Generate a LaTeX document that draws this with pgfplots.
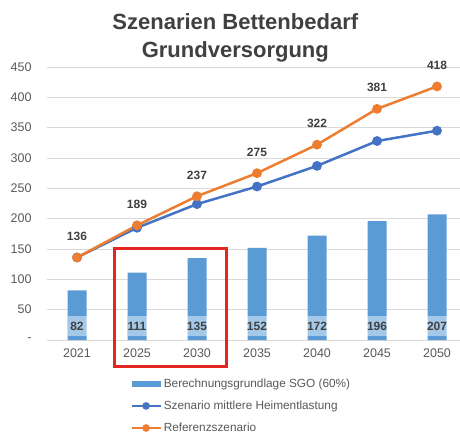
\documentclass[border=0pt]{standalone}
\usepackage{fontspec}
\setmainfont{Liberation Sans}
\usepackage{pgfplots}
\usepackage{pgfplotstable}
\pgfplotsset{compat=1.18}
\definecolor{barblue}{HTML}{5B9BD5}
\definecolor{lineblue}{HTML}{4472C4}
\definecolor{lineorange}{HTML}{ED7D31}
\definecolor{labgray}{HTML}{404040}
\definecolor{tickgray}{HTML}{595959}
\definecolor{gridgray}{HTML}{D9D9D9}
\definecolor{boxred}{HTML}{E3261F}
\pgfplotsset{
  linelegend/.style={legend image code/.code={\draw[##1, line width=2.5pt, mark size=2.5pt, mark repeat=2, mark phase=2]
    plot coordinates {(0pt,0pt) (14.5pt,0pt) (29pt,0pt)};}},
  barlegend/.style={legend image code/.code={\fill[barblue] (0pt,-3pt) rectangle (29pt,3pt);}},
}
\pgfplotstableread{
x year sgo mittel ref
0 2021 82 136 136
1 2025 111 185 189
2 2030 135 224 237
3 2035 152 253 275
4 2040 172 287 322
5 2045 196 328 381
6 2050 207 345 418
}\datatable
\begin{document}
\begin{tikzpicture}
\useasboundingbox (0,0) rectangle (460pt,434pt);
\begin{axis}[
  at={(47pt,94pt)}, anchor=south west,
  scale only axis, width=413pt, height=273pt,
  xmin=-0.5, xmax=6.383, ymin=0, ymax=450,
  clip=false,
  axis line style={draw=none},
  tick style={draw=none},
  ymajorgrids, grid style={color=gridgray, line width=0.8pt},
  ytick={0,50,...,450},
  yticklabels={-\hspace{6pt},50,100,150,200,250,300,350,400,450},
  xtick={0,...,6},
  xticklabels={2021,2025,2030,2035,2040,2045,2050},
  /pgf/number format/assume math mode=true,
  ticklabel style={font=\fontsize{12.5}{15}\selectfont, text=tickgray},
  yticklabel style={xshift=-12pt},
  xticklabel style={yshift=-5pt},
  title={Szenarien Bettenbedarf\\Grundversorgung},
  title style={at={(0.456,1)}, anchor=south, align=center, yshift=-5pt,
    font=\fontsize{22}{28}\bfseries, text=labgray},
  legend style={at={(0.194,-0.127)}, anchor=north west, draw=none,
    font=\fontsize{11.8}{14}\selectfont, text=tickgray, row sep=8pt,
    cells={anchor=west}},
  legend cell align=left,
]
\addplot[ybar, bar width=19pt, fill=barblue, draw=none, barlegend]
  table[x=x, y=sgo] {\datatable};
\addlegendentry{Berechnungsgrundlage SGO (60\%)}
\addplot[draw=none, mark=none, forget plot,
  nodes near coords, point meta=explicit symbolic,
  every node near coord/.append style={anchor=center, fill=white, fill opacity=0.45,
    text opacity=1, minimum width=19pt, minimum height=20pt, inner sep=0pt,
    text=labgray, font=\fontsize{12}{14}\bfseries}]
  table[x=x, y expr=23, meta=sgo] {\datatable};
\addplot[color=lineblue, line width=2.5pt, mark=*, mark size=3.6pt,
  mark options={fill=lineblue, draw=lineblue}, linelegend]
  table[x=x, y=mittel] {\datatable};
\addlegendentry{Szenario mittlere Heimentlastung}
\addplot[color=lineorange, line width=2.5pt, mark=*, mark size=3.6pt,
  mark options={fill=lineorange, draw=lineorange},
  nodes near coords, point meta=explicit symbolic,
  every node near coord/.append style={anchor=center, yshift=21pt,
    text=labgray, font=\fontsize{12}{14}\bfseries}, linelegend]
  table[x=x, y=ref, meta=ref] {\datatable};
\addlegendentry{Referenzszenario}
\draw[boxred, line width=3pt] (axis cs:0.633,150.8) rectangle (axis cs:2.49,-44.5);
\end{axis}
\end{tikzpicture}
\end{document}
